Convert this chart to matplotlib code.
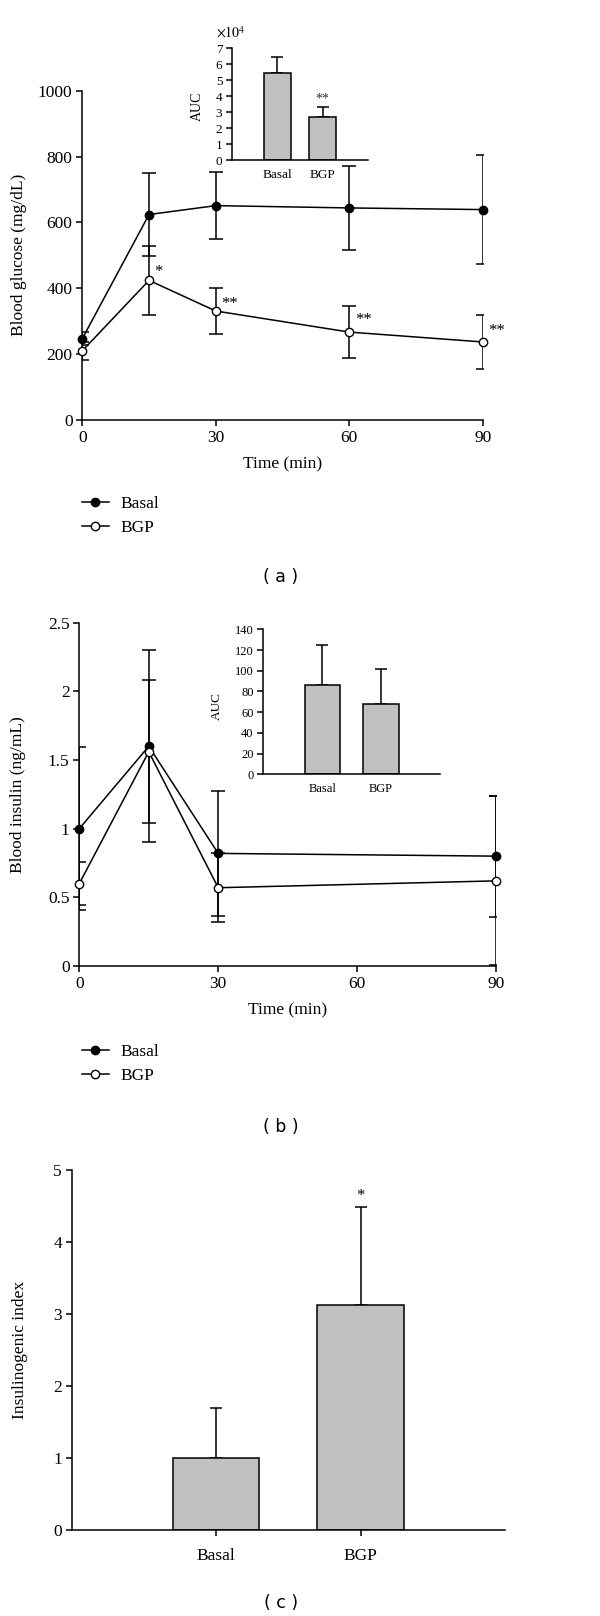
import matplotlib
matplotlib.use("Agg")
import matplotlib.pyplot as plt

plt.rcParams['font.family'] = ['Liberation Serif', 'DejaVu Serif']
plt.rcParams['mathtext.fontset'] = 'stix'

# ---------------- data ----------------
# (a) blood glucose
time_a = [0, 15, 30, 60, 90]
glu_basal = [247, 624, 651, 644, 639]
glu_basal_sd = [20, 126, 102, 128, 166]
glu_bgp = [210, 424, 331, 267, 237]
glu_bgp_sd = [28, 105, 69, 79, 81]
glu_bgp_sig = ['*', '**', '**', '**']          # for t = 15, 30, 60, 90
auc_groups = ['Basal', 'BGP']
glu_auc = [5.46, 2.69]          # x10^4
glu_auc_sd = [0.98, 0.62]
glu_auc_sig = ['', '**']

# (b) blood insulin
time_b = [0, 15, 30, 90]
ins_basal = [1.00, 1.60, 0.82, 0.80]
ins_basal_sd = [0.595, 0.70, 0.455, 0.44]
ins_bgp = [0.60, 1.56, 0.57, 0.62]
ins_bgp_sd = [0.155, 0.52, 0.25, 0.615]
ins_auc = [86.3, 67.6]
ins_auc_sd = [38.6, 33.8]

# (c) insulinogenic index
idx_vals = [1.00, 3.13]
idx_sd = [0.70, 1.36]
idx_sig = ['', '*']

W, H = 600, 1616
fig = plt.figure(figsize=(W / 100, H / 100), dpi=100)


def box(l, r, t, b):
    return [l / W, 1 - b / H, (r - l) / W, (b - t) / H]


BAR_COLOR = '#c0c0c0'
LW = 1.1
FS = 12.5


def style_axes(ax, fs):
    ax.spines['top'].set_visible(False)
    ax.spines['right'].set_visible(False)
    for s in ('left', 'bottom'):
        ax.spines[s].set_linewidth(LW)
    ax.tick_params(direction='out', width=LW, length=4, labelsize=fs, pad=3)


def line_panel(ax, t, basal, basal_sd, bgp, bgp_sd):
    ax.errorbar(t, basal, yerr=basal_sd, fmt='none', ecolor='black',
                elinewidth=LW, capsize=5, capthick=LW, zorder=2)
    ax.errorbar(t, bgp, yerr=bgp_sd, fmt='none', ecolor='black',
                elinewidth=LW, capsize=5, capthick=LW, zorder=2)
    l1, = ax.plot(t, basal, '-o', color='black', lw=LW, ms=6,
                  mfc='black', mec='black', mew=1, zorder=3, clip_on=False)
    l2, = ax.plot(t, bgp, '-o', color='black', lw=LW, ms=6,
                  mfc='white', mec='black', mew=1, zorder=3, clip_on=False)
    return l1, l2


def bar_panel(ax, vals, sd, bw=0.6):
    pos = [1, 2]
    ax.bar(pos, vals, width=bw, color=BAR_COLOR, edgecolor='black',
           linewidth=LW, zorder=2)
    ax.errorbar(pos, vals, yerr=[[0, 0], sd], fmt='none', ecolor='black',
                elinewidth=LW, capsize=4, capthick=LW, zorder=1)
    ax.set_xlim(0, 3)
    return pos


def legend(ax, handles, top):
    ax.legend(handles, ['Basal', 'BGP'], loc='upper left',
              bbox_to_anchor=(82 / W, 1 - top / H), bbox_transform=fig.transFigure,
              frameon=False, fontsize=12.5, handlelength=1.55, handletextpad=0.65,
              labelspacing=0.45, borderpad=0, borderaxespad=0)


# ---------------- panel (a) ----------------
axa = fig.add_axes(box(82.3, 482.7, 90.7, 420))
la1, la2 = line_panel(axa, time_a, glu_basal, glu_basal_sd, glu_bgp, glu_bgp_sd)
axa.set_xlim(0, 90)
axa.set_ylim(0, 1000)
axa.set_xticks([0, 30, 60, 90])
axa.set_yticks([0, 200, 400, 600, 800, 1000])
style_axes(axa, FS)
axa.set_xlabel('Time (min)', fontsize=FS, labelpad=8)
axa.set_ylabel('Blood glucose (mg/dL)', fontsize=FS)
axa.yaxis.set_label_coords(-0.138, 0.5)
offs_a = [(4, 6), (4, 5), (4, 9), (4, 8)]
for ti, yi, s, off in zip(time_a[1:], glu_bgp[1:], glu_bgp_sig, offs_a):
    axa.annotate(s, (ti, yi), xytext=off, textcoords='offset points',
                 ha='left', va='center', fontsize=12)
legend(axa, [la1, la2], 496)
fig.text(281 / W, 1 - 577 / H, '( a )', fontsize=12.5, family='DejaVu Sans',
         ha='center', va='center')

# inset (a)
axai = fig.add_axes(box(232, 368, 48.3, 160.3))
pos = bar_panel(axai, glu_auc, glu_auc_sd)
axai.set_ylim(0, 7)
axai.set_yticks(range(0, 8))
style_axes(axai, 9.5)
axai.tick_params(axis='x', length=0, pad=6, labelsize=9.5)
axai.set_xticks(pos)
axai.set_xticklabels(auc_groups)
axai.set_ylabel('AUC', fontsize=10)
axai.yaxis.set_label_coords(-0.21, 0.48)
axai.text(-0.01, 1.14, r'$\times10^4$', transform=axai.transAxes,
          fontsize=10, ha='center', va='center')
for p, v, s, sig in zip(pos, glu_auc, glu_auc_sd, glu_auc_sig):
    if sig:
        axai.annotate(sig, (p, v + s), xytext=(0, 6), textcoords='offset points',
                      ha='center', va='center', fontsize=10, color='#333333')

# ---------------- panel (b) ----------------
axb = fig.add_axes(box(79.3, 496, 622.7, 966))
lb1, lb2 = line_panel(axb, time_b, ins_basal, ins_basal_sd, ins_bgp, ins_bgp_sd)
axb.set_xlim(0, 90)
axb.set_ylim(0, 2.5)
axb.set_xticks([0, 30, 60, 90])
axb.set_yticks([0, 0.5, 1, 1.5, 2, 2.5])
axb.set_yticklabels(['0', '0.5', '1', '1.5', '2', '2.5'])
style_axes(axb, FS)
axb.set_xlabel('Time (min)', fontsize=FS, labelpad=8)
axb.set_ylabel('Blood insulin (ng/mL)', fontsize=FS)
axb.yaxis.set_label_coords(-0.128, 0.5)
legend(axb, [lb1, lb2], 1044)
fig.text(281 / W, 1 - 1127 / H, '( b )', fontsize=12.5, family='DejaVu Sans',
         ha='center', va='center')

# inset (b)
axbi = fig.add_axes(box(263.3, 440, 629.3, 774.3))
pos = bar_panel(axbi, ins_auc, ins_auc_sd)
axbi.set_ylim(0, 140)
axbi.set_yticks(range(0, 141, 20))
style_axes(axbi, 9)
axbi.tick_params(axis='x', length=0, pad=6, labelsize=9)
axbi.set_xticks(pos)
axbi.set_xticklabels(auc_groups)
axbi.set_ylabel('AUC', fontsize=9.5)
axbi.yaxis.set_label_coords(-0.23, 0.47)

# ---------------- panel (c) ----------------
axc = fig.add_axes(box(71.7, 505, 1170.4, 1530))
pos = bar_panel(axc, idx_vals, idx_sd)
axc.set_ylim(0, 5)
axc.set_yticks(range(0, 6))
style_axes(axc, FS)
axc.set_xticks(pos)
axc.set_xticklabels(auc_groups)
axc.tick_params(axis='x', pad=9)
axc.set_ylabel('Insulinogenic index', fontsize=FS)
axc.yaxis.set_label_coords(-0.102, 0.5)
for p, v, s, sig in zip(pos, idx_vals, idx_sd, idx_sig):
    if sig:
        axc.annotate(sig, (p, v + s), xytext=(0, 8), textcoords='offset points',
                     ha='center', va='center', fontsize=12)
fig.text(281 / W, 1 - 1603 / H, '( c )', fontsize=12.5, family='DejaVu Sans',
         ha='center', va='center')

fig.savefig('out.png', dpi=100)
